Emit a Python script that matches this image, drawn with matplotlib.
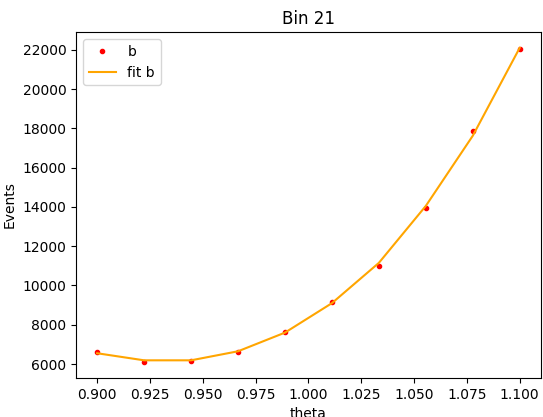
import numpy as np
import matplotlib
matplotlib.use("Agg")
import matplotlib.pyplot as plt

# theta scan for bin 21
theta = np.linspace(0.9, 1.1, 10)
events_b = [6610, 6100, 6150, 6600, 7620, 9150, 11010, 13920, 17880, 22050]
fit_b = [6550, 6190, 6190, 6650, 7600, 9100, 11150, 14050, 17620, 22100]

fig = plt.figure(figsize=(5.43, 4.17), dpi=100)
ax = fig.add_axes([0.140, 0.094, 0.856, 0.829])
ax.plot(theta, events_b, '.', c='r', label='b')
ax.plot(theta, fit_b, c='orange', label='fit b')
ax.set_title('Bin 21')
ax.set_xlabel('theta')
ax.set_ylabel('Events')
ax.legend(loc='upper left')
fig.savefig('out.png')
